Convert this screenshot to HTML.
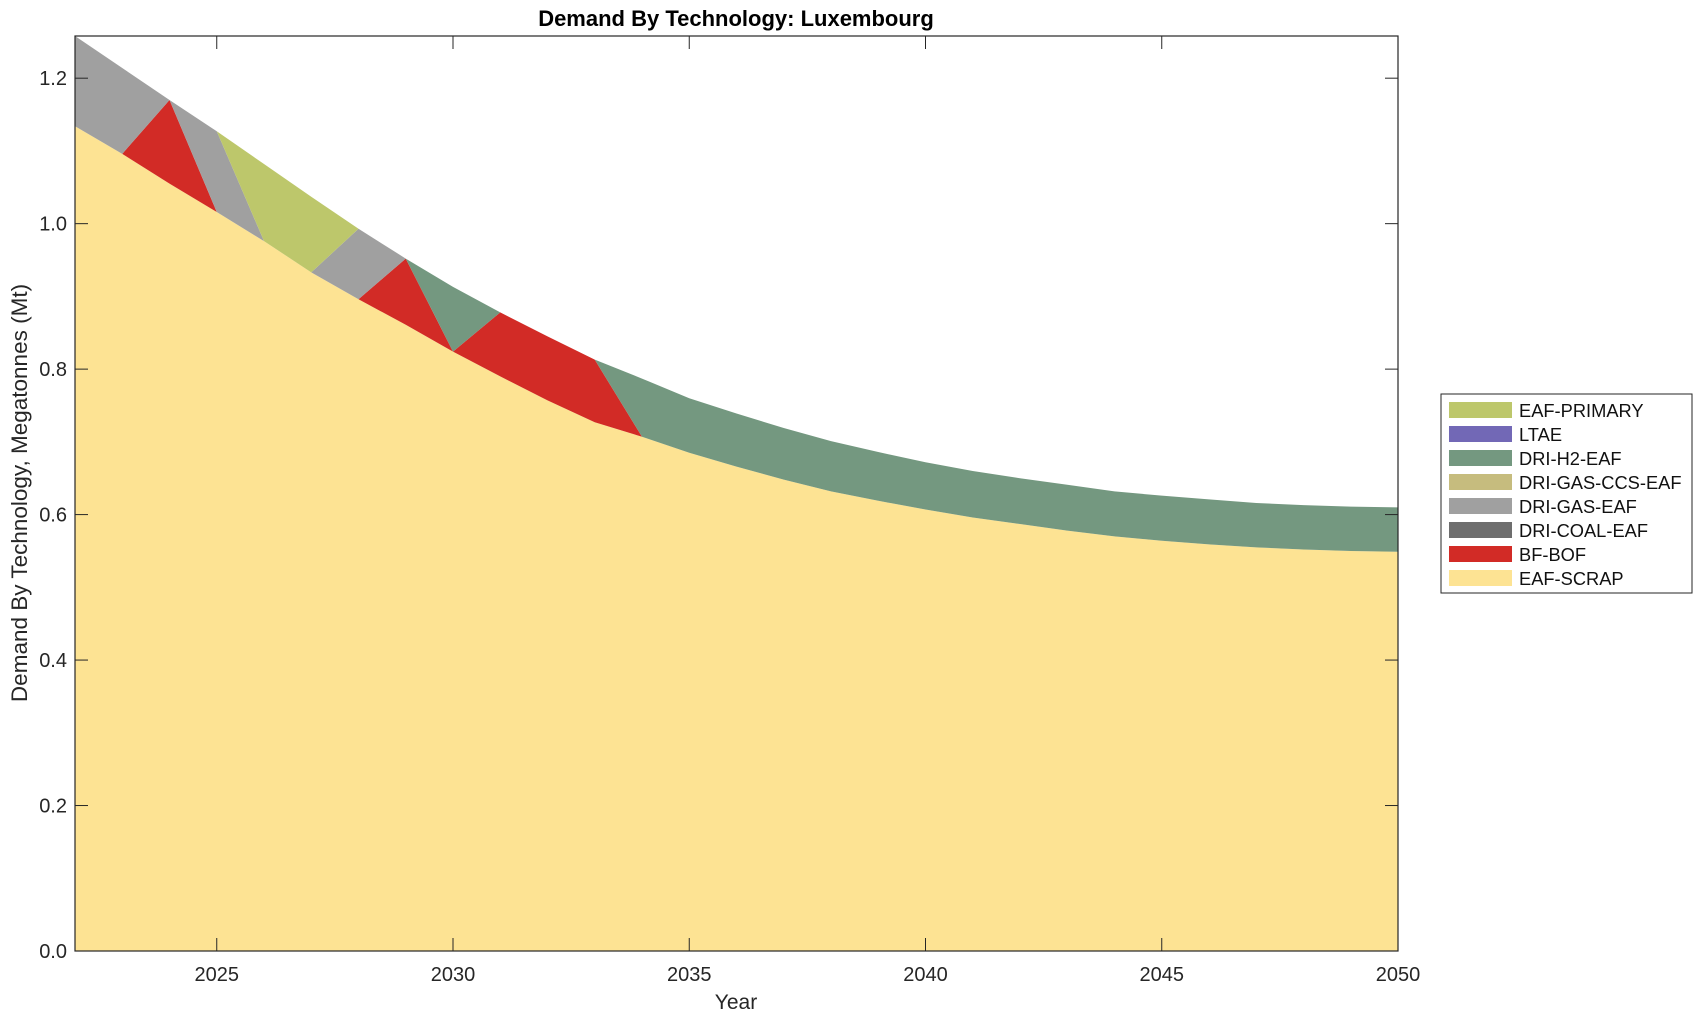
<!DOCTYPE html>
<html><head><meta charset="utf-8"><style>
body{margin:0;background:#fff;}
svg{display:block;font-family:"Liberation Sans",sans-serif;}
</style></head><body>
<svg id="chart" width="1703" height="1020" xmlns="http://www.w3.org/2000/svg">
<text x="736" y="26" text-anchor="middle" font-weight="bold" font-size="22">Demand By Technology: Luxembourg</text>
<g id="areas"></g>
<g id="axes"></g>
<g id="legend"></g>
</svg>
<script>
const years=[2022,2023,2024,2025,2026,2027,2028,2029,2030,2031,2032,2033,2034,2035,2036,2037,2038,2039,2040,2041,2042,2043,2044,2045,2046,2047,2048,2049,2050];
const eafScrap=[1.134,1.096,1.055,1.016,0.976,0.933,0.896,0.861,0.824,0.790,0.757,0.727,0.707,0.685,0.666,0.648,0.632,0.619,0.607,0.596,0.587,0.578,0.570,0.564,0.559,0.555,0.552,0.550,0.549];
const bfBof=[0,0,0.115,0,0,0,0,0.091,0,0.088,0.088,0.086,0,0,0,0,0,0,0,0,0,0,0,0,0,0,0,0,0];
const driCoal=[0,0,0,0,0,0,0,0,0,0,0,0,0,0,0,0,0,0,0,0,0,0,0,0,0,0,0,0,0];
const driGas=[0.124,0.118,0,0.111,0,0,0.097,0,0,0,0,0,0,0,0,0,0,0,0,0,0,0,0,0,0,0,0,0,0];
const driGasCcs=[0,0,0,0,0,0,0,0,0,0,0,0,0,0,0,0,0,0,0,0,0,0,0,0,0,0,0,0,0];
const driH2=[0,0,0,0,0,0,0,0,0.089,0,0,0,0.080,0.075,0.073,0.071,0.069,0.067,0.065,0.064,0.063,0.063,0.062,0.062,0.062,0.061,0.061,0.061,0.061];
const ltae=[0,0,0,0,0,0,0,0,0,0,0,0,0,0,0,0,0,0,0,0,0,0,0,0,0,0,0,0,0];
const eafPrimary=[0,0,0,0,0.106,0.104,0,0,0,0,0,0,0,0,0,0,0,0,0,0,0,0,0,0,0,0,0,0,0];
const yTicks=[0,0.2,0.4,0.6,0.8,1.0,1.2];
const xTicks=[2025,2030,2035,2040,2045,2050];
const seriesNames=["EAF-SCRAP","BF-BOF","DRI-COAL-EAF","DRI-GAS-EAF","DRI-GAS-CCS-EAF","DRI-H2-EAF","LTAE","EAF-PRIMARY"];
const series=[eafScrap,bfBof,driCoal,driGas,driGasCcs,driH2,ltae,eafPrimary];
const colors=["#fde393","#d22b26","#6e6e6e","#a0a0a0","#c6bc7e","#749880","#7268b6","#bdc76b"];
const L=75,R=1398,T=36,B=951,YMAX=1.258;
const NS="http://www.w3.org/2000/svg";
function xs(v){return L+(v-2022)/(2050-2022)*(R-L);}
function ys(v){return B-v/YMAX*(B-T);}
function mk(t,a,p){const e=document.createElementNS(NS,t);for(const k in a)e.setAttribute(k,a[k]);p.appendChild(e);return e;}
const areas=document.getElementById('areas');
let base=years.map(()=>0);
series.forEach((s,i)=>{
  const top=base.map((b,j)=>b+s[j]);
  let d="M"+years.map((y,j)=>xs(y)+","+ys(top[j])).join("L");
  for(let j=years.length-1;j>=0;j--)d+="L"+xs(years[j])+","+ys(base[j]);
  d+="Z";
  const p=mk('path',{d:d,fill:colors[i],stroke:'none'},areas);
  
  
  base=top;
});
const ax=document.getElementById('axes');
const box=mk('rect',{x:L,y:T,width:R-L,height:B-T,fill:'none',stroke:'#262626','stroke-width':1.2},ax);


yTicks.forEach(v=>{
  const y=ys(v);
  mk('line',{x1:L,x2:L+13,y1:y,y2:y,stroke:'#262626'},ax);
  mk('line',{x1:R-13,x2:R,y1:y,y2:y,stroke:'#262626'},ax);
  const t=mk('text',{x:L-8,y:y+7,'text-anchor':'end','font-size':20,fill:'#262626'},ax);
  t.textContent=v.toFixed(1);
  
  
});
xTicks.forEach(v=>{
  const x=xs(v);
  mk('line',{x1:x,x2:x,y1:B,y2:B-13,stroke:'#262626'},ax);
  mk('line',{x1:x,x2:x,y1:T,y2:T+13,stroke:'#262626'},ax);
  const t=mk('text',{x:x,y:B+30,'text-anchor':'middle','font-size':20,fill:'#262626'},ax);
  t.textContent=v;
  
  
});
const xt=mk('text',{x:736,y:1009,'text-anchor':'middle','font-size':21,fill:'#262626'},ax);
xt.textContent="Year";


const yt=mk('text',{x:0,y:0,'text-anchor':'middle','font-size':22.5,fill:'#262626',transform:'translate(27,493) rotate(-90)'},ax);
yt.textContent="Demand By Technology, Megatonnes (Mt)";


const lg=document.getElementById('legend');
const lb=mk('rect',{x:1441,y:394,width:251,height:199,fill:'#fff',stroke:'#262626','stroke-width':1},lg);


for(let k=0;k<8;k++){
  const i=7-k;
  const y=402+k*24;
  const g=mk('g',{},lg);
  
  
  mk('rect',{x:1449,y:y,width:63,height:16,fill:colors[i]},g);
  const t=mk('text',{x:1519,y:y+15,'font-size':18.3,fill:'#111'},g);
  t.textContent=seriesNames[i];
}
</script>
</body></html>
